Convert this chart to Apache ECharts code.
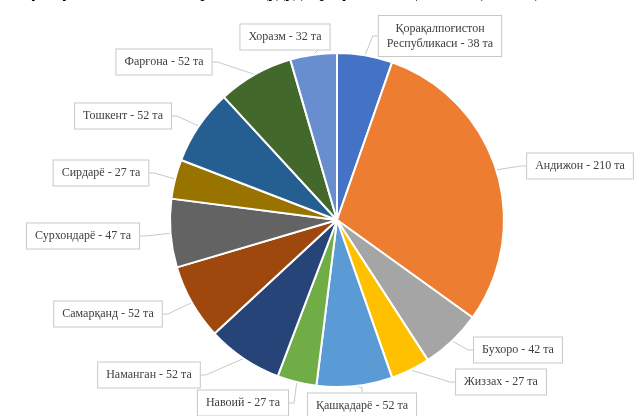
<!DOCTYPE html>
<html>
<head>
<meta charset="utf-8">
<script src="https://cdn.jsdelivr.net/npm/echarts@6/dist/echarts.min.js"></script>
<style>html,body{margin:0;padding:0;background:#fff}#c{width:640px;height:416px}</style>
</head>
<body>
<div id="c"></div>
<script>
const regions = ['Қорақалпоғистон\nРеспубликаси','Андижон','Бухоро','Жиззах','Қашқадарё','Навоий','Наманган','Самарқанд','Сурхондарё','Сирдарё','Тошкент','Фарғона','Хоразм'];
const counts = [38,210,42,27,52,27,52,52,47,27,52,52,32];
const unit = 'та';
const colors = ['#4472C4','#ED7D31','#A5A5A5','#FFC000','#5B9BD5','#70AD47','#264478','#9E480E','#636363','#997300','#255E91','#43682B','#698ED0'];
// label box centres (layout only)
const labelPos = [[440,36],[580,166],[518,350],[501,382],[362,406],[243,403],[149,375],[108,314],[83,236],[101,173],[123,116],[164,62],[285,37]];

const chart = echarts.init(document.getElementById('c'), null, {renderer:'canvas'});
chart.setOption({
  animation:false,
  color: colors,
  graphic:[{type:'text', left:20, top:-17, style:{text:'Сув хўжалиги объектларининг ҳудудлар бўйича тақсимоти (вилоят)', font:'18px "Liberation Serif"', fill:'#000'}}],
  series:[{
    type:'pie',
    center:[337,220],
    radius:[0,167],
    startAngle:90,
    clockwise:true,
    itemStyle:{borderColor:'#fff', borderWidth:2},
    data: regions.map((r,i)=>({name:r, value:counts[i]})),
    label:{
      show:true,
      formatter: p => p.name + ' - ' + p.value + ' ' + unit,
      fontFamily:'Liberation Serif', fontSize:12, color:'#404040',
      backgroundColor:'#fff', borderColor:'#c8c8c8', borderWidth:1,
      padding:[5,8], lineHeight:15, align:'center'
    },
    labelLine:{show:true, length:5, length2:5, lineStyle:{color:'#c8c8c8', width:1}},
    labelLayout: function(p){
      const pos = labelPos[p.dataIndex];
      return {x:pos[0], y:pos[1], align:'center', verticalAlign:'middle'};
    }
  }]
});
</script>
</body>
</html>
